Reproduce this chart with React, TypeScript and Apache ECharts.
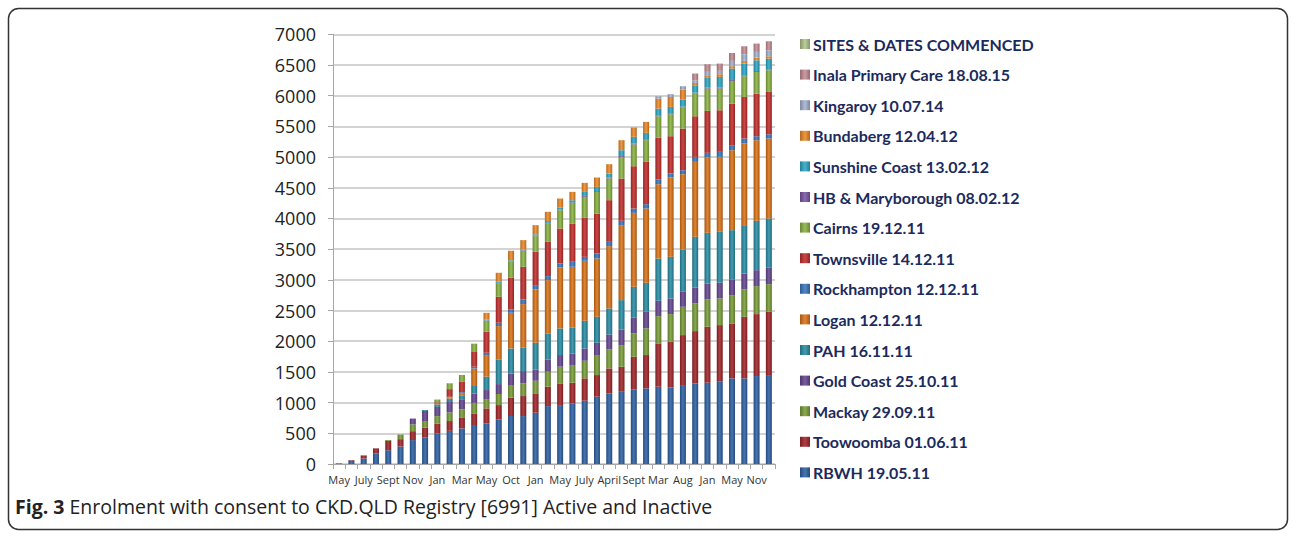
import React, { useEffect, useRef } from "react";
import * as echarts from "echarts";

const categories = [
  "May", "June", "July", "Aug", "Sept", "Oct", "Nov", "Dec", "Jan", "Feb", "Mar", "Apr",
  "May", "Aug", "Oct", "Dec", "Jan", "Mar", "May", "June", "July", "Nov", "April", "July",
  "Sept", "Dec", "Mar", "June", "Aug", "Oct", "Jan", "Mar", "May", "Aug", "Nov", "Dec",
];

const rbwh = [10, 55, 90, 175, 225, 285, 390, 435, 500, 540, 580, 635, 662, 727, 781, 781, 835, 944, 960, 988, 1031, 1096, 1151, 1177, 1216, 1232, 1259, 1248, 1286, 1313, 1324, 1340, 1395, 1395, 1433, 1449];
const toowoomba = [0, 10, 50, 80, 150, 120, 145, 155, 160, 160, 180, 190, 244, 233, 304, 326, 316, 315, 353, 336, 364, 353, 406, 407, 531, 543, 706, 743, 814, 852, 912, 923, 895, 1003, 1009, 1031];
const mackay = [0, 0, 0, 0, 15, 75, 110, 110, 120, 140, 130, 170, 152, 180, 201, 206, 205, 244, 272, 288, 287, 326, 309, 353, 381, 434, 444, 451, 461, 451, 445, 434, 461, 446, 456, 450];
const goldCoast = [0, 0, 0, 0, 0, 0, 95, 165, 150, 170, 165, 155, 147, 162, 190, 201, 185, 201, 190, 190, 201, 200, 245, 256, 254, 271, 250, 255, 244, 260, 261, 256, 256, 260, 260, 266];
const pah = [0, 0, 0, 0, 0, 0, 0, 15, 40, 55, 55, 135, 217, 402, 407, 386, 434, 424, 434, 423, 450, 423, 424, 477, 505, 472, 689, 678, 690, 825, 824, 829, 803, 787, 803, 804];
const logan = [0, 0, 0, 0, 0, 0, 0, 0, 10, 20, 45, 270, 353, 543, 580, 705, 869, 868, 993, 988, 977, 950, 1014, 1221, 1204, 1210, 1210, 1292, 1226, 1221, 1227, 1221, 1302, 1330, 1314, 1302];
const rockhampton = [0, 0, 0, 0, 0, 0, 0, 0, 5, 10, 15, 30, 37, 54, 54, 76, 70, 65, 65, 81, 65, 82, 70, 71, 71, 71, 76, 65, 65, 81, 76, 82, 82, 81, 65, 70];
const townsville = [0, 0, 0, 0, 0, 0, 0, 0, 20, 125, 175, 240, 342, 423, 522, 531, 543, 558, 570, 624, 635, 651, 679, 689, 689, 689, 684, 608, 679, 662, 683, 678, 678, 678, 695, 689];
const cairns = [0, 0, 0, 0, 0, 0, 0, 0, 45, 95, 105, 135, 179, 217, 255, 261, 255, 299, 298, 336, 342, 352, 353, 352, 354, 353, 347, 358, 342, 370, 364, 353, 369, 337, 352, 353];
const hbMaryborough = [0, 0, 0, 0, 0, 0, 0, 0, 0, 0, 0, 0, 5, 10, 8, 8, 10, 10, 10, 10, 15, 15, 15, 15, 15, 15, 15, 15, 15, 15, 15, 15, 15, 15, 15, 15];
const sunshineCoast = [0, 0, 0, 0, 0, 0, 0, 0, 0, 0, 0, 0, 15, 20, 18, 12, 20, 30, 35, 33, 66, 66, 66, 94, 110, 104, 110, 104, 115, 120, 159, 175, 186, 191, 175, 175];
const bundaberg = [0, 0, 0, 0, 0, 0, 0, 0, 0, 0, 0, 0, 110, 144, 153, 154, 149, 150, 145, 136, 147, 153, 152, 163, 151, 179, 163, 163, 163, 38, 43, 44, 38, 44, 44, 38];
const kingaroy = [0, 0, 0, 0, 0, 0, 0, 0, 0, 0, 0, 0, 0, 0, 0, 0, 0, 0, 0, 0, 0, 0, 0, 0, 0, 0, 38, 44, 54, 44, 55, 54, 87, 108, 92, 98];
const inala = [0, 0, 0, 0, 0, 0, 0, 0, 0, 0, 0, 0, 0, 0, 0, 0, 0, 0, 0, 0, 0, 0, 0, 0, 0, 0, 0, 0, 0, 109, 124, 119, 129, 130, 136, 146];
const sitesHeader = categories.map(() => 0);

const seriesNames = [
  "RBWH 19.05.11",
  "Toowoomba 01.06.11",
  "Mackay 29.09.11",
  "Gold Coast 25.10.11",
  "PAH 16.11.11",
  "Logan 12.12.11",
  "Rockhampton 12.12.11",
  "Townsville 14.12.11",
  "Cairns 19.12.11",
  "HB & Maryborough 08.02.12",
  "Sunshine Coast 13.02.12",
  "Bundaberg 12.04.12",
  "Kingaroy 10.07.14",
  "Inala Primary Care 18.08.15",
  "SITES & DATES COMMENCED",
];
const seriesData = [rbwh, toowoomba, mackay, goldCoast, pah, logan, rockhampton, townsville, cairns, hbMaryborough, sunshineCoast, bundaberg, kingaroy, inala, sitesHeader];
const seriesColors = [
  "#2F62A6", "#A3262A", "#7A9F38", "#674893", "#2B8FA6", "#DD7418", "#3A78C0",
  "#C42F2D", "#8BB443", "#7A58A5", "#2DA9C8", "#EE8A28", "#A4B4D2", "#C68F95", "#B3C78C",
];

function shade(hex: string, f: number): string {
  const n = parseInt(hex.slice(1), 16);
  let r = (n >> 16) & 255, g = (n >> 8) & 255, b = n & 255;
  const adj = (c: number) => {
    const v = f < 0 ? c * (1 + f) : c + (255 - c) * f;
    return Math.max(0, Math.min(255, Math.round(v)));
  };
  r = adj(r); g = adj(g); b = adj(b);
  return "#" + ((1 << 24) + (r << 16) + (g << 8) + b).toString(16).slice(1);
}

function grad(c: string) {
  return new echarts.graphic.LinearGradient(0, 0, 1, 0, [
    { offset: 0, color: shade(c, -0.25) },
    { offset: 0.5, color: shade(c, 0.12) },
    { offset: 1, color: shade(c, -0.25) },
  ]);
}

export default function App() {
  const ref = useRef<HTMLDivElement>(null);
  useEffect(() => {
    if (!ref.current) return;
    const chart = echarts.init(ref.current, null, { renderer: "svg" });
    const legendOrder = [...seriesNames].reverse();
    chart.setOption({
      animation: false,
      backgroundColor: "#ffffff",
      grid: { left: 333, right: 520, top: 34.3, bottom: 74, containLabel: false },
      legend: {
        data: legendOrder.map((n) => ({ name: n, icon: "rect" })),
        orient: "vertical",
        left: 795,
        top: 29,
        itemWidth: 10,
        itemHeight: 10,
        itemGap: 10.6,
        selectedMode: false,
        textStyle: {
          color: "#1C2A5C",
          fontWeight: "bold",
          fontSize: 16,
          fontFamily: "Lato",
          lineHeight: 20,
          padding: [0, 0, 0, -2],
        },
      },
      xAxis: {
        type: "category",
        data: categories,
        axisLine: { lineStyle: { color: "#A6A6A6" } },
        axisTick: { show: true, interval: 0, length: 5, lineStyle: { color: "#A6A6A6" } },
        axisLabel: { interval: 1, fontSize: 11, color: "#333", fontFamily: "Open Sans", margin: 10 },
      },
      yAxis: {
        type: "value",
        min: 0,
        max: 7000,
        interval: 500,
        axisLine: { show: true, lineStyle: { color: "#A6A6A6" } },
        axisTick: { show: true, length: 5, lineStyle: { color: "#A6A6A6" } },
        splitLine: { lineStyle: { color: "#C4C4C4", width: 1.5 } },
        axisLabel: {
          fontSize: 18,
          color: "#222",
          fontFamily: "Open Sans",
          margin: 17,
          formatter: (v: number) => String(v),
        },
      },
      graphic: [
        {
          type: "rect",
          shape: { x: 8.5, y: 8.5, width: 1279, height: 521, r: 10 },
          style: { fill: "none", stroke: "#333", lineWidth: 1.5 },
          silent: true,
        },
        {
          type: "text",
          left: 15,
          top: 496,
          style: {
            text: "{b|Fig. 3} Enrolment with consent to CKD.QLD Registry [6991] Active and Inactive",
            fontSize: 19.5,
            fontFamily: "Open Sans",
            fill: "#222",
            rich: { b: { fontWeight: "bold", fontSize: 19.5, fontFamily: "Open Sans", fill: "#222" } },
          },
        },
      ],
      series: seriesNames.map((name, i) => ({
        name,
        type: "bar",
        stack: "total",
        barWidth: 6,
        data: seriesData[i],
        itemStyle: { color: grad(seriesColors[i]) },
        emphasis: { disabled: true },
      })),
    });
    return () => chart.dispose();
  }, []);
  return (
    <div
      ref={ref}
      style={{ position: "absolute", left: 0, top: 0, width: 1295, height: 538 }}
    />
  );
}
